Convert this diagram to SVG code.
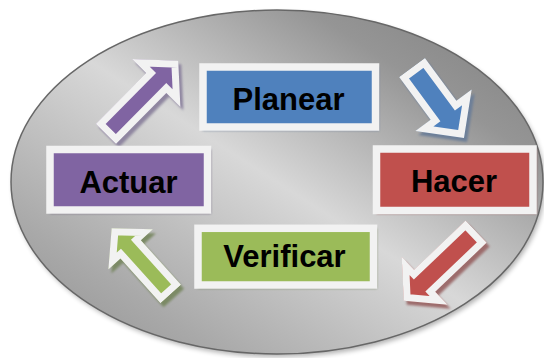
<svg xmlns="http://www.w3.org/2000/svg" xmlns:xlink="http://www.w3.org/1999/xlink" width="544" height="358" viewBox="0 0 544 358">
  <style>
    .frame { stroke: #f2f2f2; stroke-width: 7.5; }
    .label { font-family: "Liberation Sans", Arial, sans-serif; font-weight: bold; font-size: 31px; fill: #000; text-anchor: middle; }
    .edge { stroke: #f2f2f2; stroke-width: 14; }
    .soft { filter: url(#soften); }
  </style>
  <defs>
    <linearGradient id="metal" x1="1" y1="0" x2="0" y2="1">
      <stop offset="0" stop-color="#7e7e7e"/>
      <stop offset="0.22" stop-color="#959595"/>
      <stop offset="0.5" stop-color="#d8d8d8"/>
      <stop offset="0.8" stop-color="#a9a9a9"/>
      <stop offset="1" stop-color="#8e8e8e"/>
    </linearGradient>
    <filter id="blur3" x="-10%" y="-10%" width="120%" height="120%">
      <feGaussianBlur stdDeviation="2.5"/>
    </filter>
    <filter id="soften" x="-10%" y="-10%" width="120%" height="120%">
      <feGaussianBlur stdDeviation="0.8"/>
    </filter>
    <!-- block arrow outlines, local axis pointing along +x from the tail -->
    <polygon id="shpA" points="0,-14.2 71.7,-14.2 71.7,-34 103,0 71.7,34 71.7,14.2 0,14.2"/>
    <polygon id="shpB" points="0,-16 53.1,-16 53.1,-35 87.6,0 53.1,35 53.1,16 0,16"/>
    <polygon id="shpC" points="0,-15.3 71.3,-15.3 71.3,-33.2 100.2,0 71.3,33.2 71.3,15.3 0,15.3"/>
    <polygon id="shpD" points="0,-13.7 60,-13.7 60,-30 88.4,0 60,30 60,13.7 0,13.7"/>
    <clipPath id="clipA"><use xlink:href="#shpA"/></clipPath>
    <clipPath id="clipB"><use xlink:href="#shpB"/></clipPath>
    <clipPath id="clipC"><use xlink:href="#shpC"/></clipPath>
    <clipPath id="clipD"><use xlink:href="#shpD"/></clipPath>
  </defs>

  <!-- background oval -->
  <g id="backdrop">
    <ellipse cx="279" cy="185" rx="266" ry="172" fill="#000" opacity="0.3" filter="url(#blur3)"/>
    <ellipse cx="277" cy="182" rx="266" ry="172" fill="url(#metal)" stroke="#676767" stroke-width="1.5"/>
  </g>

  <!-- block arrows between the stages -->
  <g id="connectors">
    <g id="arrow-actuar-planear">
      <use xlink:href="#shpA" class="soft" fill="#8f86a0" transform="translate(108.8,137.5) rotate(-45.3)"/>
      <g transform="translate(105.8,134) rotate(-45.3)">
        <use xlink:href="#shpA" class="edge" fill="#8064a2" clip-path="url(#clipA)"/>
      </g>
    </g>
    <g id="arrow-planear-hacer">
      <use xlink:href="#shpB" class="soft" fill="#6d7f98" transform="translate(415,71.5) rotate(53.6)"/>
      <g transform="translate(412,67.5) rotate(53.6)">
        <use xlink:href="#shpB" class="edge" fill="#4f81bd" clip-path="url(#clipB)"/>
      </g>
    </g>
    <g id="arrow-hacer-verificar">
      <use xlink:href="#shpC" class="soft" fill="#9c6c6c" transform="translate(479.2,235.5) rotate(136.3)"/>
      <g transform="translate(476.2,231.5) rotate(136.3)">
        <use xlink:href="#shpC" class="edge" fill="#c0504d" clip-path="url(#clipC)"/>
      </g>
    </g>
    <g id="arrow-verificar-actuar">
      <use xlink:href="#shpD" class="soft" fill="#7c8a66" transform="translate(173.8,298) rotate(-132)"/>
      <g transform="translate(170.8,294) rotate(-132)">
        <use xlink:href="#shpD" class="edge" fill="#9bbb59" clip-path="url(#clipD)"/>
      </g>
    </g>
  </g>

  <!-- stage boxes -->
  <g id="planear">
    <rect x="202.5" y="67" width="176.5" height="63.5" fill="#6a7d98" class="soft"/>
    <rect x="203" y="67" width="172.5" height="60" fill="#4f81bd" class="frame"/>
    <text x="288.5" y="110" class="label">Planear</text>
  </g>
  <g id="hacer">
    <rect x="376.5" y="149" width="160" height="65" fill="#9b6868" class="soft"/>
    <rect x="376.5" y="149" width="156.5" height="61.5" fill="#c0504d" class="frame"/>
    <text x="454" y="191.7" class="label">Hacer</text>
  </g>
  <g id="actuar">
    <rect x="50" y="149.5" width="161" height="64" fill="#6b6078" class="soft"/>
    <rect x="50" y="149.5" width="157.5" height="60.5" fill="#8064a2" class="frame"/>
    <text x="128.5" y="193.3" class="label">Actuar</text>
  </g>
  <g id="verificar">
    <rect x="198" y="228.3" width="179" height="60.2" fill="#7b8966" class="soft"/>
    <rect x="198" y="228.3" width="175.5" height="56.7" fill="#9bbb59" class="frame"/>
    <text x="284.5" y="266.7" class="label">Verificar</text>
  </g>
</svg>
